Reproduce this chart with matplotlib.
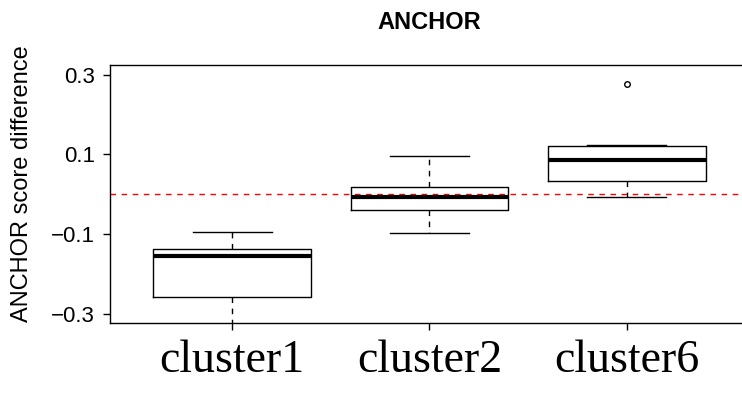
import matplotlib.pyplot as plt

# box statistics per cluster (ANCHOR score difference)
clusters = ["cluster1", "cluster2", "cluster6"]
q1 = [-0.257, -0.039, 0.034]
medians = [-0.156, -0.008, 0.085]
q3 = [-0.137, 0.0175, 0.122]
whisker_lo = [-0.36, -0.0975, -0.006]
whisker_hi = [-0.095, 0.096, 0.124]
outliers = [[], [], [0.276]]

stats = []
for i, name in enumerate(clusters):
    stats.append({
        "label": name,
        "q1": q1[i],
        "med": medians[i],
        "q3": q3[i],
        "whislo": whisker_lo[i],
        "whishi": whisker_hi[i],
        "fliers": outliers[i],
    })

plt.rcParams["font.family"] = ["Liberation Sans", "DejaVu Sans"]

fig = plt.figure(figsize=(7.42, 3.95), dpi=100)
# plot region runs slightly past the right edge of the canvas
ax = fig.add_axes([0.1482, 0.1815, 0.8612, 0.6539])

ax.bxp(
    stats,
    positions=[1, 2, 3],
    widths=0.8,
    showfliers=True,
    boxprops=dict(color="black", linewidth=1.0),
    medianprops=dict(color="black", linewidth=3.0, solid_capstyle="butt"),
    whiskerprops=dict(color="black", linewidth=1.0, linestyle=(0, (4, 4))),
    capprops=dict(color="black", linewidth=1.0),
    flierprops=dict(marker="o", markersize=4, markerfacecolor="white",
                    markeredgecolor="black", markeredgewidth=1.0),
)

ax.axhline(0, color="red", linestyle=(0, (4, 4)), linewidth=1.0)

ax.set_xlim(0.38, 3.62)
ax.set_ylim(-0.324, 0.324)
ax.set_yticks([-0.3, -0.1, 0.1, 0.3])
ax.set_yticklabels(["\u22120.3", "\u22120.1", "0.1", "0.3"], fontsize=16)
ax.set_xticks([1, 2, 3])
ax.set_xticklabels(clusters, fontsize=33, family=["Liberation Serif", "DejaVu Serif"])
ax.tick_params(axis="both", direction="out", length=5, width=1)
ax.tick_params(axis="y", pad=6)
ax.tick_params(axis="x", pad=7)

ax.spines["right"].set_visible(False)
for side in ["left", "top", "bottom"]:
    ax.spines[side].set_linewidth(1.0)

ax.set_ylabel("ANCHOR score difference", fontsize=17)
ax.yaxis.set_label_coords(-0.1205, 0.54)
ax.set_title("ANCHOR", fontsize=17, fontweight="bold", pad=26)

plt.savefig("out.png", dpi=100)
